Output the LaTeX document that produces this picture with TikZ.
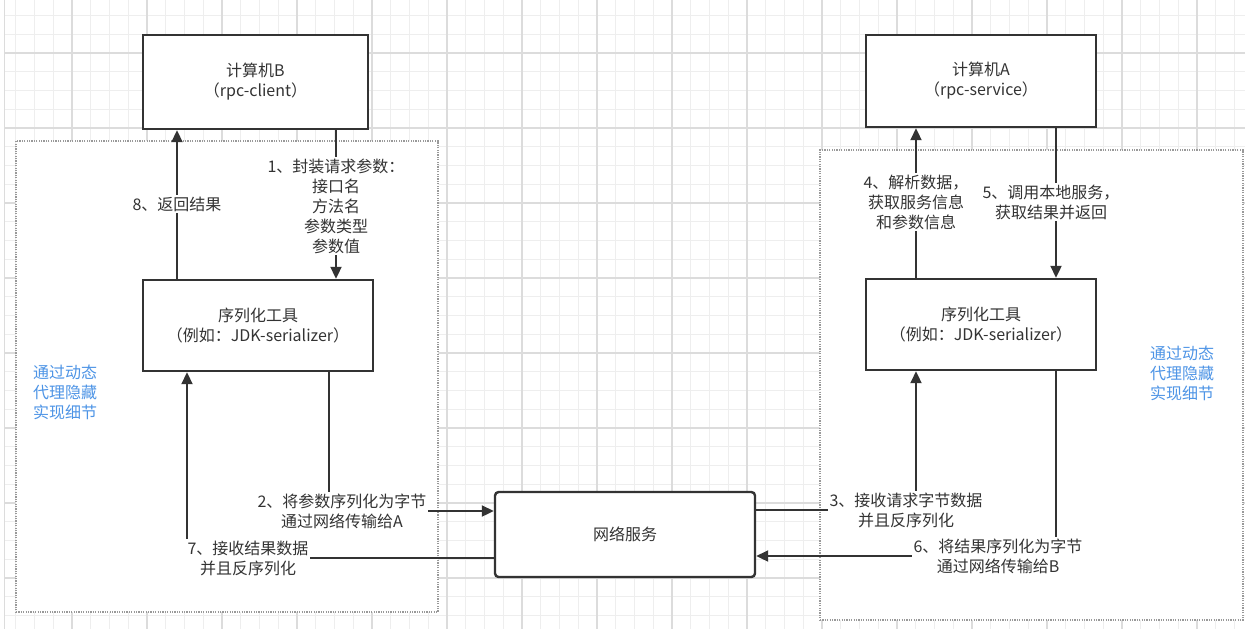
\documentclass[tikz,border=0pt]{standalone}
\usepackage{fontspec}
\setmainfont{Noto Sans CJK SC}
\usetikzlibrary{arrows.meta}
\definecolor{ink}{HTML}{333333}
\definecolor{minorg}{HTML}{EEEEEE}
\definecolor{majorg}{HTML}{DCDCDC}
\definecolor{dotc}{HTML}{999999}
\definecolor{bluet}{HTML}{4D94E6}
\tikzset{
  txt/.style={font=\fontsize{8pt}{10pt}\selectfont},
  box/.style={draw=ink, line width=1.2pt, fill=white, text=ink, align=center, inner sep=0pt, txt},
  netbox/.style={box, rounded corners=1.8pt},
  arr/.style={draw=ink, line width=1pt, -{Triangle[length=6pt,width=5.5pt]}},
  lbl/.style={fill=white, text=ink, align=center, inner sep=1pt, txt},
  region/.style={draw=dotc, line width=0.6pt, dash pattern=on 0.6pt off 0.6pt, fill=white, inner sep=0pt},
  note/.style={text=bluet, align=left, inner sep=0pt, txt},
  minorgrid/.style={draw=minorg, line width=0.5pt},
  majorgrid/.style={draw=majorg, line width=0.6pt}
}
\begin{document}
\begin{tikzpicture}[x=0.5pt,y=-0.5pt]
\useasboundingbox (0,0) rectangle (1245,629);
\fill[white] (0,0) rectangle (1245,629);
% background grid
\begin{scope}
\clip (4,0) rectangle (1245,629);
\foreach \i in {0,...,65} { \draw[minorgrid] ({15.6+18.75*\i},0) -- ({15.6+18.75*\i},629); }
\foreach \j in {0,...,32} { \draw[minorgrid] (0,{15.6+18.75*\j}) -- (1245,{15.6+18.75*\j}); }
\foreach \i in {0,...,15} { \draw[majorgrid] ({72+75*\i},0) -- ({72+75*\i},629); }
\foreach \j in {0,...,7} { \draw[majorgrid] (0,{53+75*\j}) -- (1245,{53+75*\j}); }
\draw[majorgrid] (4,0) -- (4,629);
\end{scope}

% dotted regions
\node[region, minimum width=211pt, minimum height=235.5pt] (regL) at (227,376.5) {};
\node[region, minimum width=211.5pt, minimum height=235pt] (regR) at (1031.5,385) {};

% blue notes
\node[note] (noteL) at (65,392) {通过动态\\代理隐藏\\实现细节};
\node[note] (noteR) at (1182,373) {通过动态\\代理隐藏\\实现细节};

% boxes
\node[box, minimum width=112.5pt, minimum height=47pt] (compB) at (255.5,82) {计算机B\\（rpc-client）};
\node[box, minimum width=115pt, minimum height=46pt] (compA) at (981,81) {计算机A\\（rpc-service）};
\node[box, minimum width=115pt, minimum height=45.5pt] (serL) at (258,325.5) {序列化工具\\（例如：JDK-serializer）};
\node[box, minimum width=115pt, minimum height=45.5pt] (serR) at (981,324.5) {序列化工具\\（例如：JDK-serializer）};
\node[netbox, minimum width=130pt, minimum height=42.5pt] (net) at (625,534.5) {网络服务};

% connectors
\draw[arr] (177,0 |- serL.north) -- (177,0 |- compB.south);
\draw[arr] (336,0 |- compB.south) -- (336,0 |- serL.north);
\draw[arr] (329,0 |- serL.south) |- (net.west |- 0,511);
\draw[arr] (net.west |- 0,558) -| (187,0 |- serL.south);
\draw[arr] (net.east |- 0,510) -| (916,0 |- serR.south);
\draw[arr] (1056,0 |- serR.south) |- (net.east |- 0,556);
\draw[arr] (916,0 |- serR.north) -- (916,0 |- compA.south);
\draw[arr] (1056,0 |- compA.south) -- (1056,0 |- serR.north);

% labels
\node[lbl] (l8) at (177,204) {8、返回结果};
\node[lbl] (l1) at (336,206) {1、封装请求参数：\\接口名\\方法名\\参数类型\\参数值};
\node[lbl] (l2) at (342,511) {2、将参数序列化为字节\\通过网络传输给A};
\node[lbl] (l7) at (248,558) {7、接收结果数据\\并且反序列化};
\node[lbl] (l3) at (906,510) {3、接收请求字节数据\\并且反序列化};
\node[lbl] (l6) at (998,556) {6、将结果序列化为字节\\通过网络传输给B};
\node[lbl] (l4) at (916,202) {4、解析数据，\\获取服务信息\\和参数信息};
\node[lbl] (l5) at (1051,202) {5、调用本地服务，\\获取结果并返回};
\end{tikzpicture}
\end{document}
